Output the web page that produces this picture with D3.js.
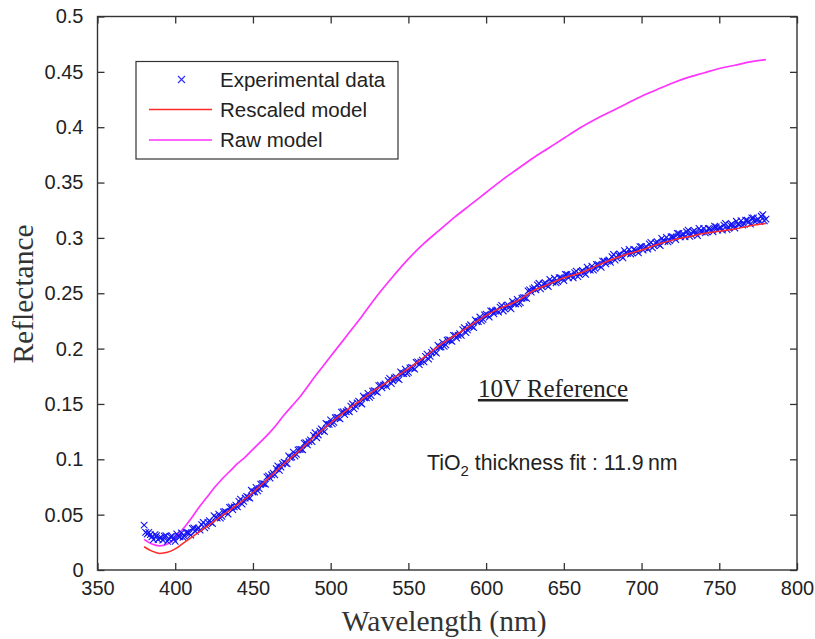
<!DOCTYPE html>
<html><head><meta charset="utf-8">
<script src="https://cdn.jsdelivr.net/npm/d3@7"></script>
<style>body{margin:0;background:#fff}svg{display:block}</style>
</head><body>
<svg id="c" width="815" height="639"></svg>
<script>
// Experimental data, even wavelengths 380-780 nm (step 2)
const expEvenStart = 380, expStep = 2;
const expEvenValues = [
.0405,.0325,.0320,.0275,.0310,.0290,.0270,.0310,.0280,.0305,
.0260,.0305,.0335,.0305,.0340,.0315,.0380,.0370,.0360,.0430,
.0400,.0445,.0420,.0475,.0505,.0485,.0530,.0505,.0570,.0570,
.0570,.0640,.0620,.0665,.0650,.0705,.0745,.0735,.0780,.0775,
.0850,.0860,.0860,.0940,.0930,.0975,.0960,.1015,.1065,.1045,
.1090,.1085,.1150,.1160,.1160,.1240,.1220,.1275,.1250,.1315,
.1355,.1335,.1380,.1365,.1430,.1430,.1430,.1500,.1480,.1525,
.1500,.1555,.1595,.1575,.1620,.1605,.1670,.1670,.1660,.1730,
.1710,.1745,.1720,.1775,.1815,.1785,.1830,.1815,.1880,.1880,
.1880,.1950,.1930,.1985,.1960,.2015,.2055,.2035,.2080,.2065,
.2120,.2120,.2120,.2190,.2170,.2215,.2190,.2245,.2285,.2265,
.2310,.2285,.2340,.2340,.2330,.2390,.2360,.2395,.2360,.2405,
.2445,.2415,.2460,.2455,.2530,.2540,.2530,.2590,.2560,.2595,
.2560,.2605,.2635,.2605,.2640,.2615,.2670,.2660,.2640,.2700,
.2670,.2705,.2670,.2715,.2745,.2725,.2760,.2735,.2790,.2790,
.2780,.2850,.2820,.2855,.2820,.2865,.2895,.2865,.2890,.2865,
.2920,.2910,.2900,.2960,.2930,.2965,.2930,.2975,.3005,.2975,
.3010,.2985,.3040,.3030,.3010,.3070,.3030,.3065,.3020,.3065,
.3085,.3055,.3080,.3055,.3100,.3090,.3070,.3130,.3090,.3125,
.3090,.3125,.3155,.3125,.3160,.3125,.3180,.3160,.3150,.3210,
.3170];
// Experimental data, odd wavelengths 381-779 nm (step 2)
const expOddStart = 381;
const expOddValues = [
.0340,.0340,.0300,.0320,.0275,.0295,.0305,.0260,.0300,.0280,
.0325,.0300,.0295,.0340,.0330,.0375,.0350,.0380,.0410,.0380,
.0430,.0430,.0490,.0470,.0470,.0525,.0520,.0565,.0545,.0585,
.0620,.0595,.0650,.0655,.0720,.0705,.0715,.0775,.0780,.0840,
.0830,.0875,.0915,.0900,.0960,.0965,.1030,.1020,.1030,.1085,
.1090,.1145,.1130,.1175,.1215,.1195,.1255,.1260,.1325,.1315,
.1320,.1375,.1375,.1425,.1405,.1445,.1480,.1455,.1510,.1510,
.1570,.1555,.1560,.1615,.1615,.1665,.1645,.1680,.1710,.1685,
.1735,.1730,.1790,.1775,.1775,.1825,.1825,.1875,.1855,.1895,
.1930,.1905,.1965,.1970,.2030,.2015,.2020,.2075,.2075,.2120,
.2095,.2135,.2170,.2145,.2200,.2200,.2260,.2245,.2250,.2305,
.2300,.2340,.2315,.2350,.2375,.2340,.2385,.2375,.2425,.2405,
.2405,.2455,.2460,.2520,.2510,.2550,.2575,.2540,.2585,.2575,
.2625,.2600,.2595,.2640,.2630,.2670,.2640,.2665,.2685,.2650,
.2695,.2685,.2735,.2710,.2710,.2760,.2750,.2790,.2765,.2800,
.2830,.2800,.2845,.2835,.2885,.2860,.2855,.2895,.2880,.2920,
.2890,.2920,.2945,.2910,.2955,.2945,.2995,.2970,.2965,.3010,
.3000,.3040,.3010,.3035,.3055,.3015,.3055,.3040,.3085,.3055,
.3045,.3085,.3070,.3105,.3070,.3095,.3115,.3075,.3115,.3105,
.3150,.3120,.3115,.3160,.3145,.3180,.3145,.3170,.3195,.3155];
// Rescaled model
const rescaledWl = [380,385,390,395,400,405,410,415,420,430,440,450,460,470,480,490,500,510,520,530,540,550,560,570,580,590,600,610,620,630,640,650,660,670,680,690,700,710,720,730,740,750,760,770,780];
const rescaledR  = [.021,.017,.015,.016,.019,.024,.029,.034,.039,.049,.059,.070,.083,.096,.108,.121,.133,.144,.154,.164,.173,.182,.192,.203,.212,.221,.230,.237,.243,.252,.258,.264,.268,.274,.280,.285,.289,.294,.298,.301,.304,.306,.308,.311,.313];
// Raw model
const rawWl = [380,385,390,395,400,405,410,415,420,425,430,435,440,445,450,455,460,465,470,475,480,490,500,510,520,530,540,550,560,570,580,590,600,610,620,630,640,650,660,670,680,690,700,710,720,730,740,750,760,770,780];
const rawR  = [.0277,.0235,.0218,.0235,.029,.037,.046,.056,.065,.074,.082,.089,.096,.102,.109,.116,.123,.131,.140,.148,.156,.175,.193,.211,.229,.248,.265,.281,.295,.307,.319,.330,.341,.352,.362,.372,.381,.390,.399,.407,.414,.421,.428,.434,.440,.445,.449,.453,.456,.459,.461];
const xTicks = [350,400,450,500,550,600,650,700,750,800];
const yTicks = [0,0.05,0.1,0.15,0.2,0.25,0.3,0.35,0.4,0.45,0.5];
const legendLabels = ["Experimental data","Rescaled model","Raw model"];

const svg = d3.select("#c");
const L=97.5, R=797, T=16.5, B=570;
const x = d3.scaleLinear().domain([350,800]).range([L,R]);
const y = d3.scaleLinear().domain([0,0.5]).range([B,T]);
const sans = "'Liberation Sans', Arial, sans-serif";
const serif = "'Liberation Serif', 'Times New Roman', serif";
const axisColor = "#333";

// data marks
const expData = expEvenValues.map((v,i)=>({w:expEvenStart+i*expStep, r:v}))
  .concat(expOddValues.map((v,i)=>({w:expOddStart+i*expStep, r:v})));
const line = d3.line().x(d=>x(d[0])).y(d=>y(d[1])).curve(d3.curveMonotoneX);
svg.append("path").datum(rawWl.map((w,i)=>[w,rawR[i]]))
  .attr("d",line).attr("fill","none").attr("stroke","#ff33ff").attr("stroke-width",1.7);
svg.append("g").selectAll("path").data(expData).join("path")
  .attr("transform",d=>`translate(${x(d.w)},${y(d.r)})`)
  .attr("d","M-3.3,-3.3L3.3,3.3M-3.3,3.3L3.3,-3.3").attr("stroke","#1414f5").attr("stroke-width",1.1).attr("fill","none");
svg.append("path").datum(rescaledWl.map((w,i)=>[w,rescaledR[i]]))
  .attr("d",line).attr("fill","none").attr("stroke","#ff2a2a").attr("stroke-width",1.5);

// axes
const gx = svg.append("g").attr("transform",`translate(0,${B})`)
  .call(d3.axisBottom(x).tickValues(xTicks).tickSizeInner(-7).tickSizeOuter(0).tickPadding(11).tickFormat(d3.format("d")));
const gxt = svg.append("g").attr("transform",`translate(0,${T})`)
  .call(d3.axisTop(x).tickValues(xTicks).tickSizeInner(-7).tickSizeOuter(0).tickFormat(""));
const gy = svg.append("g").attr("transform",`translate(${L},0)`)
  .call(d3.axisLeft(y).tickValues(yTicks).tickSizeInner(-7).tickSizeOuter(0).tickPadding(14).tickFormat(d=>String(d)));
const gyr = svg.append("g").attr("transform",`translate(${R},0)`)
  .call(d3.axisRight(y).tickValues(yTicks).tickSizeInner(-7).tickSizeOuter(0).tickFormat(""));
[gx,gxt,gy,gyr].forEach(g=>{
  g.select(".domain").remove();
  g.selectAll(".tick line").attr("stroke",axisColor).attr("stroke-width",1.3);
  g.selectAll(".tick text").attr("fill","#222").style("font-family",sans).style("font-size","20px");
});
svg.append("rect").attr("x",L).attr("y",T).attr("width",R-L).attr("height",B-T)
  .attr("fill","none").attr("stroke",axisColor).attr("stroke-width",1.4);

// axis titles
svg.append("text").attr("x",(L+R)/2-3).attr("y",631).attr("text-anchor","middle")
  .style("font-family",serif).style("font-size","29.5px").attr("fill","#333").text("Wavelength (nm)");
svg.append("text").attr("transform","translate(33,294) rotate(-90)").attr("text-anchor","middle")
  .style("font-family",serif).style("font-size","29.5px").attr("fill","#333").text("Reflectance");

// legend
const lg = svg.append("g");
lg.append("rect").attr("x",136).attr("y",61.5).attr("width",262).attr("height",97.5)
  .attr("fill","#fff").attr("stroke",axisColor).attr("stroke-width",1.2);
const rowY = [79.5,109.5,140];
lg.append("path").attr("transform",`translate(181.5,${rowY[0]})`).attr("d","M-3.5,-3.5L3.5,3.5M-3.5,3.5L3.5,-3.5")
  .attr("stroke","#3333ff").attr("stroke-width",1.2);
lg.append("line").attr("x1",149).attr("x2",212).attr("y1",rowY[1]).attr("y2",rowY[1]).attr("stroke","#ff2a2a").attr("stroke-width",1.6);
lg.append("line").attr("x1",149).attr("x2",212).attr("y1",rowY[2]).attr("y2",rowY[2]).attr("stroke","#ff33ff").attr("stroke-width",1.6);
lg.selectAll("text").data(legendLabels).join("text")
  .attr("x",220).attr("y",(d,i)=>rowY[i]+7).style("font-family",sans).style("font-size","20.5px")
  .attr("fill","#222").text(d=>d);

// annotations
svg.append("text").attr("x",553).attr("y",397).attr("text-anchor","middle")
  .style("font-family",serif).style("font-size","25px").attr("fill","#222")
  .attr("text-decoration","underline").text("10V Reference");
const t2 = svg.append("text").attr("x",427).attr("y",470).style("font-family",sans).style("font-size","21.3px").attr("fill","#222");
t2.append("tspan").text("TiO");
t2.append("tspan").attr("dy",6).style("font-size","15px").text("2");
t2.append("tspan").attr("dy",-6).text(" thickness fit : 11.9\u2009nm");
</script>
</body></html>
